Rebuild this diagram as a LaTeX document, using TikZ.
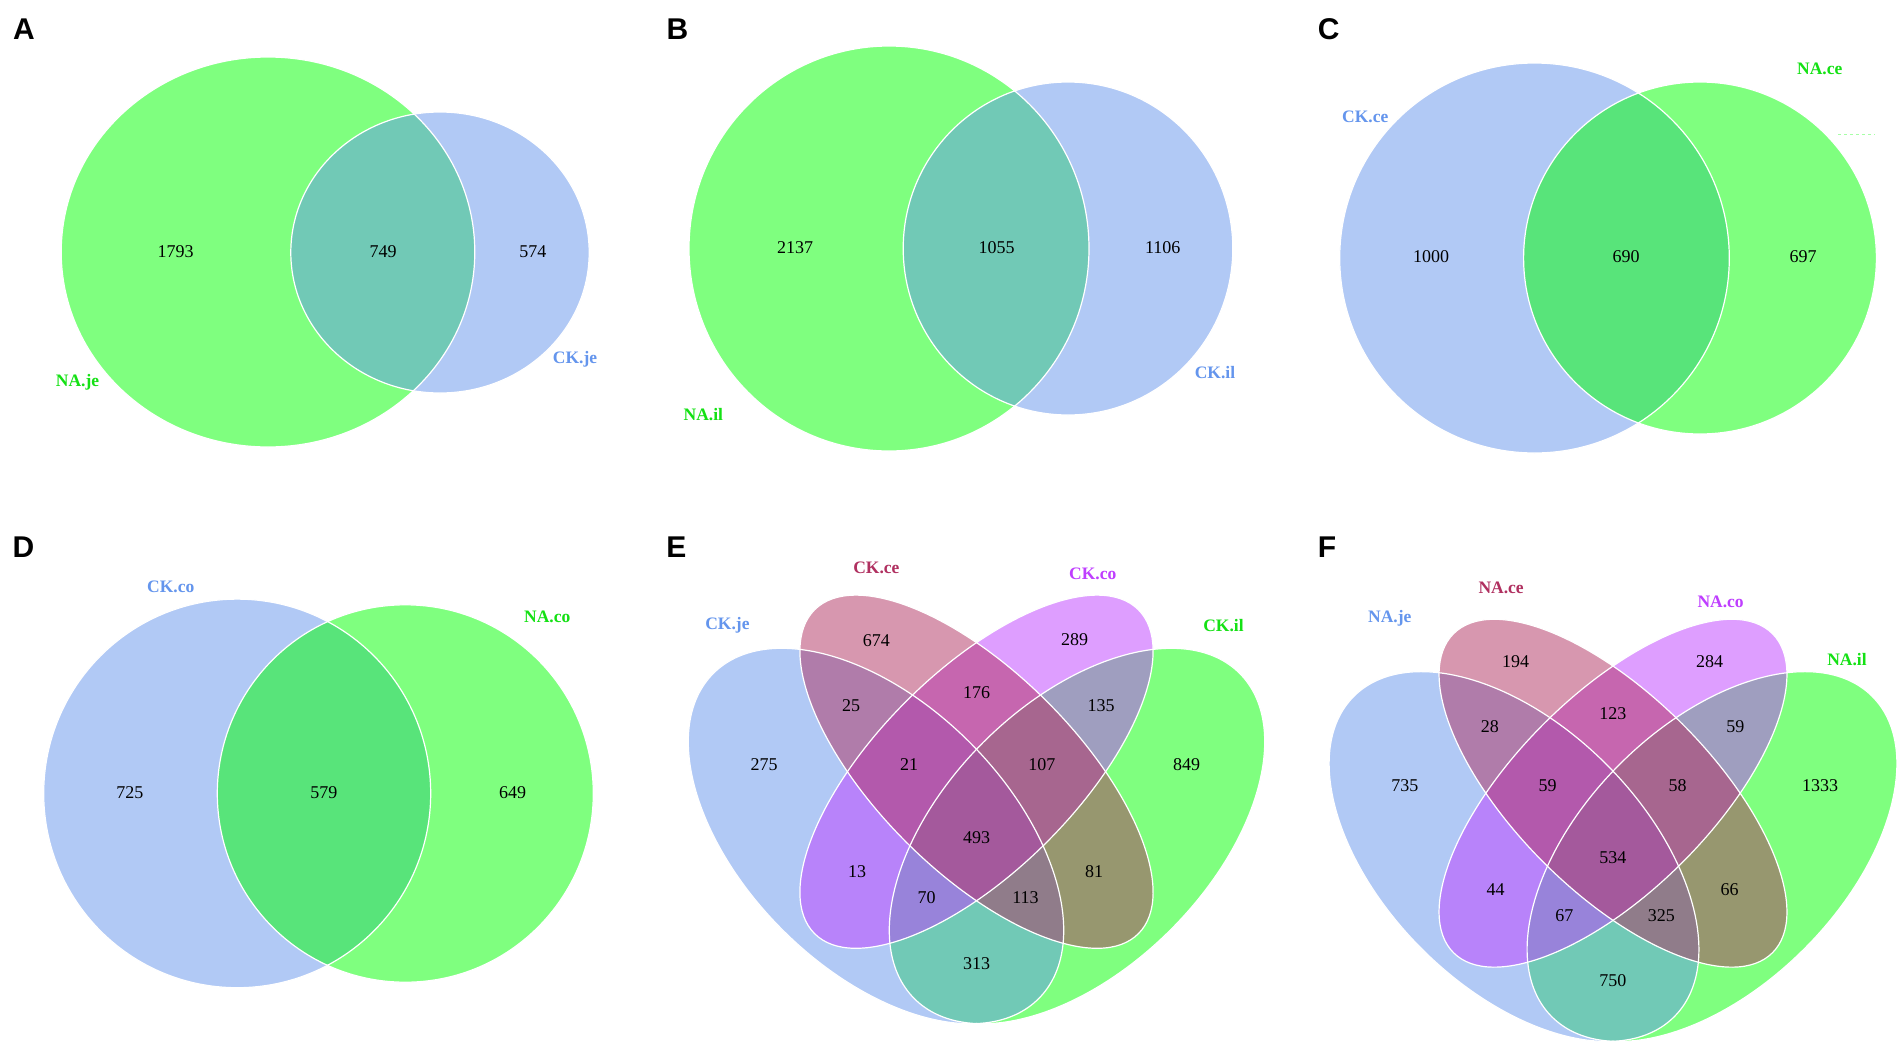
\documentclass[tikz,border=0pt]{standalone}
\usepackage{fontspec}
\setmainfont{Liberation Serif}
\newfontfamily\panelfont{Liberation Sans}

\definecolor{vblue}{RGB}{100,149,237}
\definecolor{vgreen}{RGB}{0,255,0}
\definecolor{vpurple}{RGB}{191,62,255}
\definecolor{vpink}{RGB}{176,48,96}
\definecolor{labgreen}{RGB}{20,225,20}

% four-set ellipses around the centre of the scope
\newcommand{\quadvenn}[1]{%
  \begin{scope}[#1]
    \fill[venn, vgreen,  shift={(100.5,64.3)},  rotate=45]  (0,0) ellipse [x radius=230pt, y radius=132.5pt];
    \fill[venn, vblue,   shift={(-100.5,64.3)}, rotate=-45] (0,0) ellipse [x radius=230pt, y radius=132.5pt];
    \fill[venn, vpurple, rotate=45]  (0,0) ellipse [x radius=229pt, y radius=99.5pt];
    \fill[venn, vpink,   rotate=-45] (0,0) ellipse [x radius=229pt, y radius=99.5pt];
    \draw[edge, shift={(100.5,64.3)},  rotate=45]  (0,0) ellipse [x radius=230pt, y radius=132.5pt];
    \draw[edge, shift={(-100.5,64.3)}, rotate=-45] (0,0) ellipse [x radius=230pt, y radius=132.5pt];
    \draw[edge, rotate=45]  (0,0) ellipse [x radius=229pt, y radius=99.5pt];
    \draw[edge, rotate=-45] (0,0) ellipse [x radius=229pt, y radius=99.5pt];
  \end{scope}}

\begin{document}
\begin{tikzpicture}[
    x=1pt, y=-1pt,
    venn/.style={fill opacity=0.5},
    edge/.style={draw=white, line width=1.2pt},
    num/.style={font=\fontsize{18}{18}\selectfont, inner sep=0pt},
    setlab/.style={font=\fontsize{17.5}{17.5}\selectfont\bfseries, inner sep=0pt},
    panel/.style={font=\panelfont\fontsize{30}{30}\selectfont\bfseries, inner sep=0pt}
]
\fill[white] (0,0) rectangle (1904,1050);
\useasboundingbox (0,0) rectangle (1904,1050);

% Panel A
\fill[venn, vgreen] (268,252) ellipse [x radius=206.8pt, y radius=195pt];
\fill[venn, vblue] (440,252.5) ellipse [x radius=149.2pt, y radius=140.5pt];
\draw[edge] (268,252) ellipse [x radius=206.8pt, y radius=195pt];
\draw[edge] (440,252.5) ellipse [x radius=149.2pt, y radius=140.5pt];
\node[panel] (A) at (24,29.5) {A};
\node[num] (A-na) at (175.6,252) {1793};
\node[num] (A-both) at (383,252) {749};
\node[num] (A-ck) at (532.9,252) {574};
\node[setlab, labgreen] (A-nalab) at (77.6,382) {NA.je};
\node[setlab, vblue] (A-cklab) at (575,359) {CK.je};

% Panel B
\fill[venn, vgreen] (889,248.5) ellipse [x radius=200pt, y radius=202.5pt];
\fill[venn, vblue] (1068,248.5) ellipse [x radius=164.8pt, y radius=166.5pt];
\draw[edge] (889,248.5) ellipse [x radius=200pt, y radius=202.5pt];
\draw[edge] (1068,248.5) ellipse [x radius=164.8pt, y radius=166.5pt];
\node[panel] (B) at (677.4,29.5) {B};
\node[num] (B-na) at (795.2,248) {2137};
\node[num] (B-both) at (996.5,248) {1055};
\node[num] (B-ck) at (1162.7,248) {1106};
\node[setlab, labgreen] (B-nalab) at (703.3,415) {NA.il};
\node[setlab, vblue] (B-cklab) at (1215,373) {CK.il};

% Panel C
\fill[venn, vblue] (1534.5,258) ellipse [x radius=194.8pt, y radius=195pt];
\fill[venn, vgreen] (1700,258) ellipse [x radius=176.4pt, y radius=176pt];
\draw[edge] (1534.5,258) ellipse [x radius=194.8pt, y radius=195pt];
\draw[edge] (1700,258) ellipse [x radius=176.4pt, y radius=176pt];
\draw[vgreen!35, dashed] (1838,134) -- (1875,134);
\node[panel] (C) at (1328.6,29.5) {C};
\node[num] (C-ck) at (1431,257) {1000};
\node[num] (C-both) at (1626,257) {690};
\node[num] (C-na) at (1803,257) {697};
\node[setlab, vblue] (C-cklab) at (1365.2,117) {CK.ce};
\node[setlab, labgreen] (C-nalab) at (1819.8,69) {NA.ce};

% Panel D
\fill[venn, vblue] (237.2,793.4) ellipse [x radius=193.5pt, y radius=194.3pt];
\fill[venn, vgreen] (405.3,793.5) ellipse [x radius=188pt, y radius=188.7pt];
\draw[edge] (237.2,793.4) ellipse [x radius=193.5pt, y radius=194.3pt];
\draw[edge] (405.3,793.5) ellipse [x radius=188pt, y radius=188.7pt];
\node[panel] (D) at (23.5,547) {D};
\node[num] (D-ck) at (129.8,793) {725};
\node[num] (D-both) at (323.8,793) {579};
\node[num] (D-na) at (512.5,793) {649};
\node[setlab, vblue] (D-cklab) at (170.7,586.8) {CK.co};
\node[setlab, labgreen] (D-nalab) at (547.2,616.7) {NA.co};

% Panel E
\quadvenn{shift={(976.5,771.7)}}
\node[panel] (E) at (676.3,547.5) {E};
\node[num] (E-ce) at (876.4,640.5) {674};
\node[num] (E-co) at (1074.5,639.4) {289};
\node[num] (E-je-ce) at (851.1,705.9) {25};
\node[num] (E-ce-co) at (976.5,693) {176};
\node[num] (E-co-il) at (1101,705.9) {135};
\node[num] (E-je) at (764.1,765) {275};
\node[num] (E-je-ce-co) at (909.1,765) {21};
\node[num] (E-ce-co-il) at (1041.8,765) {107};
\node[num] (E-il) at (1186.7,765) {849};
\node[num] (E-all) at (976.5,837.9) {493};
\node[num] (E-je-co) at (857.2,871.2) {13};
\node[num] (E-ce-il) at (1094,871.2) {81};
\node[num] (E-je-co-il) at (926.6,897.6) {70};
\node[num] (E-je-ce-il) at (1025.5,897.6) {113};
\node[num] (E-je-il) at (976.5,963.5) {313};
\node[setlab, vblue] (E-jelab) at (727.4,625.2) {CK.je};
\node[setlab, vpink] (E-celab) at (876.4,567.5) {CK.ce};
\node[setlab, vpurple] (E-colab) at (1092.8,574.3) {CK.co};
\node[setlab, labgreen] (E-illab) at (1223.5,625.2) {CK.il};

% Panel F
\quadvenn{shift={(1613,793.2)}, scale=0.985}
\node[panel] (F) at (1327,547.5) {F};
\node[num] (F-ce) at (1515.7,661.8) {194};
\node[num] (F-co) at (1709.5,661.8) {284};
\node[num] (F-je-ce) at (1489.9,727) {28};
\node[num] (F-ce-co) at (1612.8,714.1) {123};
\node[num] (F-co-il) at (1735.3,727) {59};
\node[num] (F-je) at (1404.8,785.7) {735};
\node[num] (F-je-ce-co) at (1547.7,785.7) {59};
\node[num] (F-ce-co-il) at (1677.5,785.7) {58};
\node[num] (F-il) at (1820,785.7) {1333};
\node[num] (F-all) at (1612.8,857.6) {534};
\node[num] (F-je-co) at (1495.7,889.2) {44};
\node[num] (F-ce-il) at (1729.5,889.2) {66};
\node[num] (F-je-co-il) at (1564.3,916) {67};
\node[num] (F-je-ce-il) at (1661.3,916) {325};
\node[num] (F-je-il) at (1612.8,980.4) {750};
\node[setlab, vblue] (F-jelab) at (1389.8,618.4) {NA.je};
\node[setlab, vpink] (F-celab) at (1501.1,587.9) {NA.ce};
\node[setlab, vpurple] (F-colab) at (1720.6,601.4) {NA.co};
\node[setlab, labgreen] (F-illab) at (1847,659.8) {NA.il};
\end{tikzpicture}
\end{document}
